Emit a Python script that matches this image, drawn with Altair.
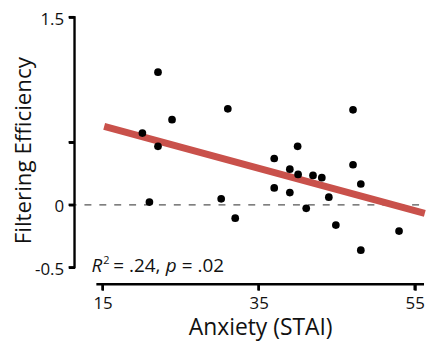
import altair as alt
import pandas as pd

# Data
anxiety = [20.1, 22.1, 22.1, 23.9, 21.0, 31.05, 30.2, 32.0, 37.0, 37.0, 39.0, 39.0,
           40.0, 40.06, 41.97, 43.1, 41.1, 44.0, 44.9, 47.1, 47.1, 48.1, 48.1, 53.0]
efficiency = [0.573, 1.060, 0.467, 0.680, 0.022, 0.767, 0.048, -0.107, 0.370, 0.135, 0.285, 0.098,
              0.467, 0.243, 0.235, 0.217, -0.028, 0.061, -0.162, 0.759, 0.320, 0.166, -0.363, -0.210]
fit_x = [15.2, 56.3]
fit_y = [0.627, -0.068]
x_ticks = [15, 35, 55]
y_ticks = [-0.5, 0, 0.5, 1.5]

FONT = "Open Sans"
W, H = 330, 252
XOFF, YOFF, TICK = 17, 22, 6
LW = 2.4

pts = pd.DataFrame({"x": anxiety, "y": efficiency})
fit = pd.DataFrame({"x": fit_x, "y": fit_y})

xscale = alt.Scale(domain=[14.2, 56.2], nice=False, zero=False)
yscale = alt.Scale(domain=[-0.5, 1.5], nice=False, zero=False)

xaxis = alt.Axis(values=x_ticks, title="Anxiety (STAI)", offset=XOFF, grid=False,
                 domain=False, tickColor="black", tickWidth=LW, tickSize=TICK,
                 labelFont=FONT, labelFontSize=17, labelColor="#111", labelPadding=5,
                 titleFont=FONT, titleFontSize=23, titleFontWeight="normal", titleColor="#111",
                 titlePadding=6, labelFlush=False)
yaxis = alt.Axis(values=y_ticks, title="Filtering Efficiency", offset=YOFF, grid=False,
                 domain=False, tickColor="black", tickWidth=LW, tickSize=TICK,
                 labelFont=FONT, labelFontSize=17, labelColor="#111", labelPadding=5, labelOffset=2,
                 labelExpr="datum.value == 0.5 ? '' : (datum.value == 0 ? '0' : (datum.value < 0 ? '-0.5' : '1.5'))",
                 titleFont=FONT, titleFontSize=22.5, titleFontWeight="normal", titleColor="#111",
                 titlePadding=-1, titleY=134, labelFlush=False)

X = alt.X("x:Q", scale=xscale, axis=xaxis)
Y = alt.Y("y:Q", scale=yscale, axis=yaxis)

one = pd.DataFrame({"k": [0]})

# axis lines drawn as black rules (offset from the plot like the reference)
ydom = alt.Chart(one).mark_rule(color="black", strokeWidth=LW, clip=False).encode(
    x=alt.value(-YOFF), y=alt.value(-1), y2=alt.value(H + 1))
xdom = alt.Chart(one).mark_rule(color="black", strokeWidth=LW, clip=False).encode(
    y=alt.value(H + XOFF), x=alt.value(0), x2=alt.value(W))
xt = alt.Chart(pd.DataFrame({"x": x_ticks})).mark_rule(color="black", strokeWidth=LW, clip=False).encode(
    x=X, y=alt.value(H + XOFF), y2=alt.value(H + XOFF + TICK))
yt = alt.Chart(pd.DataFrame({"y": y_ticks})).mark_rule(color="black", strokeWidth=LW, clip=False).encode(
    y=Y, x=alt.value(-YOFF - TICK), x2=alt.value(-YOFF))

zero = alt.Chart(pd.DataFrame({"y": [0]})).mark_rule(
    color="#555", strokeWidth=1.2, strokeDash=[7, 8], clip=False
).encode(y=Y, x=alt.value(-27), x2=alt.value(W))

line = alt.Chart(fit).mark_line(color="#c9514b", strokeWidth=7, clip=False).encode(x=X, y=Y)

dots = alt.Chart(pts).mark_circle(color="black", opacity=1, size=60).encode(x=X, y=Y)

def txt(s, x, y, size=19, style="normal"):
    return alt.Chart(pd.DataFrame({"t": [s]})).mark_text(
        font=FONT, fontSize=size, fontStyle=style, color="#111",
        align="left", baseline="alphabetic"
    ).encode(text="t:N", x=alt.value(x), y=alt.value(y))

x0, yb = -5, 257
ann = [
    txt("R", x0, yb, style="italic"),
    txt("2", x0 + 12, yb - 8, size=11),
    txt("= .24,", x0 + 22, yb),
    txt("p", x0 + 75, yb, style="italic"),
    txt("= .02", x0 + 91, yb),
]

chart = alt.layer(zero, line, dots, ydom, xdom, xt, yt, *ann).properties(
    width=W, height=H,
    padding={"left": 89, "top": 8, "right": 2, "bottom": 75},
    autosize=alt.AutoSizeParams(type="none"),
).configure_view(stroke=None)

chart.save("out.html", embed_options={"renderer": "svg", "actions": False})
